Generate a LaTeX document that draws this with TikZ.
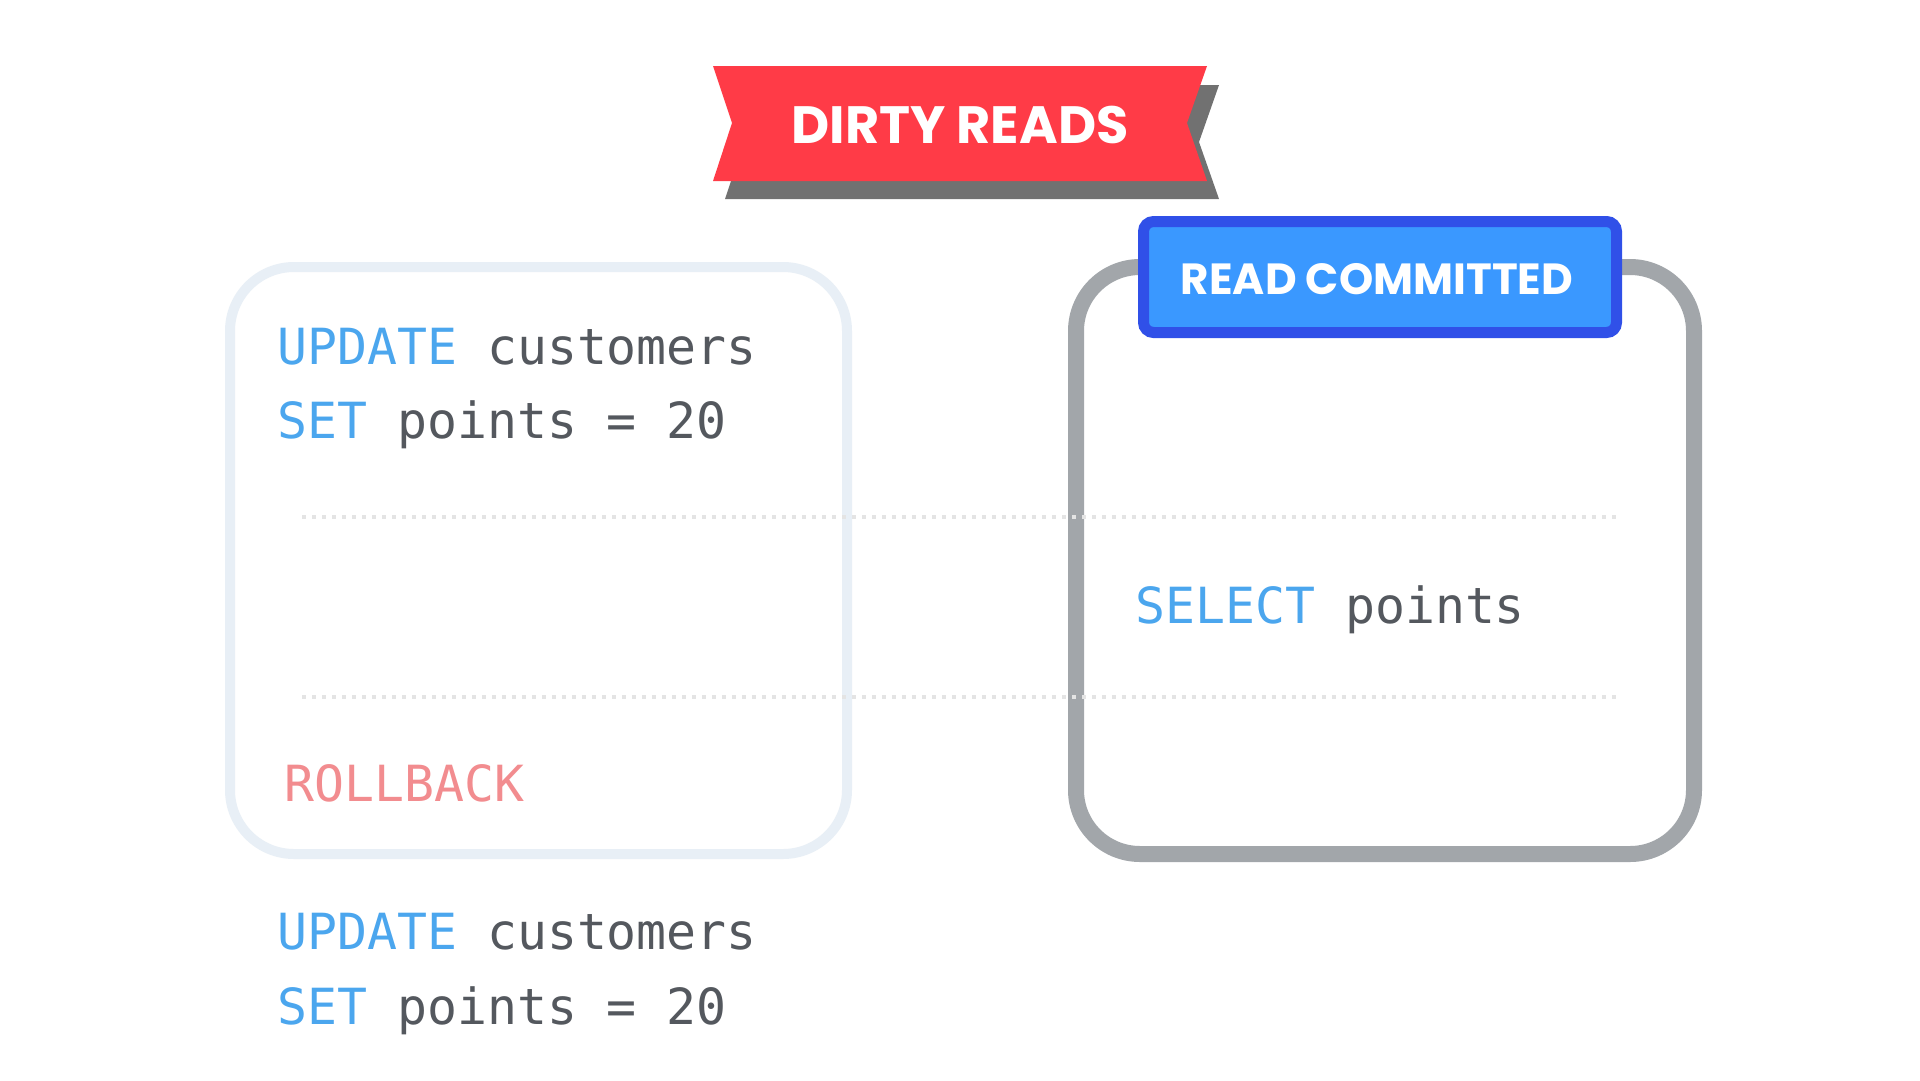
\documentclass[tikz,border=0pt]{standalone}
\usepackage{fontspec}
\setmainfont{Poppins}
\newfontfamily\codefont{DejaVu Sans Mono}
\newfontfamily\labelfont{Poppins}

\definecolor{bannerred}{HTML}{FF3B47}
\definecolor{bannershadow}{HTML}{717171}
\definecolor{tagborder}{HTML}{3050E8}
\definecolor{tagfill}{HTML}{3A98FF}
\definecolor{boxgray}{HTML}{A2A6AA}
\definecolor{boxpale}{HTML}{E8EFF6}
\definecolor{dotgray}{HTML}{E4E4E4}
\definecolor{kwblue}{HTML}{4BA6EE}
\definecolor{identgray}{HTML}{54585E}
\definecolor{rollred}{HTML}{F28C8F}

\tikzset{
  codeline/.style={anchor=base west, inner sep=0pt, text=identgray,
    font=\codefont\fontsize{49.8}{60}\selectfont},
  txbox/.style={rounded corners=64pt, line join=round},
  timeline/.style={draw=dotgray, line width=4pt, dash pattern=on 4pt off 6pt},
}
\newcommand{\kw}[1]{\textcolor{kwblue}{#1}}

\begin{document}
\begin{tikzpicture}[x=1pt, y=-1pt]
  % canvas
  \fill[white] (0,0) rectangle (1920,1080);
  \useasboundingbox (0,0) rectangle (1920,1080);

  % title ribbon with its drop shadow
  \fill[bannershadow] (725,85) -- (1219,85) -- (1199,142) -- (1219,199)
    -- (725,199) -- (744,142) -- cycle;
  \fill[bannerred] (713,66) -- (1207,66) -- (1187,123) -- (1207,181)
    -- (713,181) -- (732,123) -- cycle;
  \node[anchor=base, inner sep=0pt, text=white,
    font=\labelfont\bfseries\fontsize{52.5}{60}\selectfont] (title) at (960,143) {DIRTY READS};

  % transaction A (pale frame)
  \draw[txbox, draw=boxpale, line width=10pt] (230,267) rectangle (847,854);

  % transaction B (gray frame)
  \draw[txbox, draw=boxgray, line width=16pt] (1076,267) rectangle (1694,854);

  % isolation level tag
  \node[draw=tagborder, fill=tagfill, line width=11pt, rounded corners=10pt,
    minimum width=473pt, minimum height=111pt, inner sep=0pt] (level) at (1380,277) {};
  \node[anchor=base, inner sep=0pt, text=white,
    font=\labelfont\bfseries\fontsize{43.6}{50}\selectfont] (leveltext) at (1377,294) {READ COMMITTED};

  % time slots
  \coordinate (s1a) at (302,517);
  \coordinate (s1b) at (1618,517);
  \coordinate (s2a) at (302,697);
  \coordinate (s2b) at (1618,697);
  \draw[timeline] (s1a) -- (s1b);
  \draw[timeline] (s2a) -- (s2b);

  % statements
  \node[codeline] (a1) at (277,364) {\kw{UPDATE} customers};
  \node[codeline] (a2) at (277,438) {\kw{SET} points = 20};
  \node[codeline, text=rollred] (a3) at (284,801) {ROLLBACK};
  \node[codeline] (b1) at (1135,623) {\kw{SELECT} points};
  \node[codeline] (c1) at (277,949) {\kw{UPDATE} customers};
  \node[codeline] (c2) at (277,1024) {\kw{SET} points = 20};
\end{tikzpicture}
\end{document}
